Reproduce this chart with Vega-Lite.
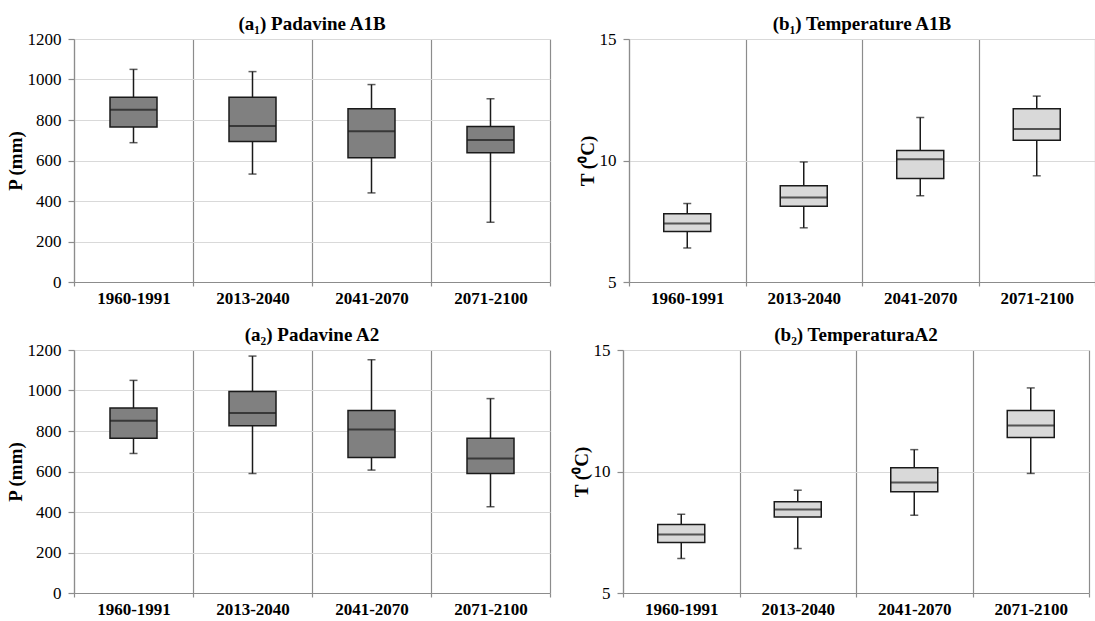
{
  "$schema": "https://vega.github.io/schema/vega-lite/v6.json",
  "padding": {"left": 6, "top": 15, "right": 0, "bottom": 0},
  "background": "white",
  "config": {
    "view": {"stroke": null},
    "font": "Liberation Serif",
    "axis": {"labelFont": "Liberation Serif", "titleFont": "Liberation Serif", "labelColor": "#000", "titleColor": "#000", "domainColor": "#8c8c8c", "tickColor": "#8c8c8c", "domainWidth": 1.2, "tickWidth": 1.2},
    "axisX": {"labelFontSize": 17, "labelFontWeight": "bold", "labelAngle": 0, "tickBand": "extent", "grid": true, "gridColor": "#8c8c8c", "gridWidth": 1.2, "tickSize": 4, "labelPadding": 4},
    "axisY": {"labelFontSize": 17, "titleFontSize": 19, "titleFontWeight": "bold", "grid": true, "gridColor": "#d9d9d9", "gridWidth": 1.2, "tickSize": 6, "labelPadding": 7, "titlePadding": 2, "format": "d"},
    "title": {"font": "Liberation Serif", "fontSize": 19, "fontWeight": "bold", "color": "#000", "offset": -4}
  },
  "datasets": {
    "a1": [
      {"period": "1960-1991", "lo": 688, "q1": 765, "med": 851, "q3": 912, "hi": 1050},
      {"period": "2013-2040", "lo": 533, "q1": 694, "med": 770, "q3": 912, "hi": 1039},
      {"period": "2041-2070", "lo": 440, "q1": 613, "med": 744, "q3": 856, "hi": 975},
      {"period": "2071-2100", "lo": 295, "q1": 638, "med": 701, "q3": 768, "hi": 905}
    ],
    "b1": [
      {"period": "1960-1991", "lo": 6.40, "q1": 7.08, "med": 7.41, "q3": 7.81, "hi": 8.23},
      {"period": "2013-2040", "lo": 7.23, "q1": 8.12, "med": 8.48, "q3": 8.96, "hi": 9.94},
      {"period": "2041-2070", "lo": 8.55, "q1": 9.26, "med": 10.05, "q3": 10.41, "hi": 11.77},
      {"period": "2071-2100", "lo": 9.37, "q1": 10.83, "med": 11.30, "q3": 12.13, "hi": 12.65}
    ],
    "a2": [
      {"period": "1960-1991", "lo": 689, "q1": 764, "med": 851, "q3": 914, "hi": 1050},
      {"period": "2013-2040", "lo": 590, "q1": 826, "med": 889, "q3": 995, "hi": 1170},
      {"period": "2041-2070", "lo": 607, "q1": 669, "med": 807, "q3": 901, "hi": 1152},
      {"period": "2071-2100", "lo": 426, "q1": 590, "med": 664, "q3": 764, "hi": 960}
    ],
    "b2": [
      {"period": "1960-1991", "lo": 6.42, "q1": 7.08, "med": 7.41, "q3": 7.82, "hi": 8.24},
      {"period": "2013-2040", "lo": 6.83, "q1": 8.13, "med": 8.44, "q3": 8.76, "hi": 9.23},
      {"period": "2041-2070", "lo": 8.20, "q1": 9.17, "med": 9.55, "q3": 10.15, "hi": 10.90},
      {"period": "2071-2100", "lo": 9.92, "q1": 11.40, "med": 11.89, "q3": 12.51, "hi": 13.44}
    ]
  },
  "spacing": 20,
  "vconcat": [
    {
      "spacing": 27,
      "hconcat": [
        {
          "title": "(a₁) Padavine A1B",
          "width": 476, "height": 243,
          "data": {"name": "a1"},
          "encoding": {"x": {"field": "period", "type": "nominal", "sort": null, "title": null, "scale": {"paddingInner": 0, "paddingOuter": 0}}},
          "layer": [
            {"mark": {"type": "rule", "color": "#1a1a1a", "strokeWidth": 1.5}, "encoding": {"y": {"field": "lo", "type": "quantitative", "title": "P (mm)", "scale": {"domain": [0, 1200]}, "axis": {"values": [0, 200, 400, 600, 800, 1000, 1200]}}, "y2": {"field": "hi"}}},
            {"mark": {"type": "tick", "orient": "horizontal", "color": "#1a1a1a", "size": 8, "thickness": 1.5}, "encoding": {"y": {"field": "lo", "type": "quantitative", "title": "P (mm)"}}},
            {"mark": {"type": "tick", "orient": "horizontal", "color": "#1a1a1a", "size": 8, "thickness": 1.5}, "encoding": {"y": {"field": "hi", "type": "quantitative", "title": "P (mm)"}}},
            {"mark": {"type": "bar", "fill": "#808080", "stroke": "#1a1a1a", "strokeWidth": 1.5, "size": 47}, "encoding": {"y": {"field": "q1", "type": "quantitative", "title": "P (mm)"}, "y2": {"field": "q3"}}},
            {"mark": {"type": "tick", "orient": "horizontal", "color": "#1a1a1a", "size": 47, "thickness": 2}, "encoding": {"y": {"field": "med", "type": "quantitative", "title": "P (mm)"}}}
          ]
        },
        {
          "title": "(b₁) Temperature A1B",
          "width": 466, "height": 243,
          "data": {"name": "b1"},
          "encoding": {"x": {"field": "period", "type": "nominal", "sort": null, "title": null, "scale": {"paddingInner": 0, "paddingOuter": 0}}},
          "layer": [
            {"mark": {"type": "rule", "color": "#1a1a1a", "strokeWidth": 1.5}, "encoding": {"y": {"field": "lo", "type": "quantitative", "title": "T (⁰C)", "scale": {"domain": [5, 15]}, "axis": {"values": [5, 10, 15]}}, "y2": {"field": "hi"}}},
            {"mark": {"type": "tick", "orient": "horizontal", "color": "#1a1a1a", "size": 8, "thickness": 1.5}, "encoding": {"y": {"field": "lo", "type": "quantitative", "title": "T (⁰C)"}}},
            {"mark": {"type": "tick", "orient": "horizontal", "color": "#1a1a1a", "size": 8, "thickness": 1.5}, "encoding": {"y": {"field": "hi", "type": "quantitative", "title": "T (⁰C)"}}},
            {"mark": {"type": "bar", "fill": "#d9d9d9", "stroke": "#1a1a1a", "strokeWidth": 1.5, "size": 47}, "encoding": {"y": {"field": "q1", "type": "quantitative", "title": "T (⁰C)"}, "y2": {"field": "q3"}}},
            {"mark": {"type": "tick", "orient": "horizontal", "color": "#1a1a1a", "size": 47, "thickness": 2}, "encoding": {"y": {"field": "med", "type": "quantitative", "title": "T (⁰C)"}}}
          ]
        }
      ]
    },
    {
      "spacing": 21,
      "hconcat": [
        {
          "title": "(a₂) Padavine A2",
          "width": 476, "height": 243,
          "data": {"name": "a2"},
          "encoding": {"x": {"field": "period", "type": "nominal", "sort": null, "title": null, "scale": {"paddingInner": 0, "paddingOuter": 0}}},
          "layer": [
            {"mark": {"type": "rule", "color": "#1a1a1a", "strokeWidth": 1.5}, "encoding": {"y": {"field": "lo", "type": "quantitative", "title": "P (mm)", "scale": {"domain": [0, 1200]}, "axis": {"values": [0, 200, 400, 600, 800, 1000, 1200]}}, "y2": {"field": "hi"}}},
            {"mark": {"type": "tick", "orient": "horizontal", "color": "#1a1a1a", "size": 8, "thickness": 1.5}, "encoding": {"y": {"field": "lo", "type": "quantitative", "title": "P (mm)"}}},
            {"mark": {"type": "tick", "orient": "horizontal", "color": "#1a1a1a", "size": 8, "thickness": 1.5}, "encoding": {"y": {"field": "hi", "type": "quantitative", "title": "P (mm)"}}},
            {"mark": {"type": "bar", "fill": "#808080", "stroke": "#1a1a1a", "strokeWidth": 1.5, "size": 47}, "encoding": {"y": {"field": "q1", "type": "quantitative", "title": "P (mm)"}, "y2": {"field": "q3"}}},
            {"mark": {"type": "tick", "orient": "horizontal", "color": "#1a1a1a", "size": 47, "thickness": 2}, "encoding": {"y": {"field": "med", "type": "quantitative", "title": "P (mm)"}}}
          ]
        },
        {
          "title": "(b₂) TemperaturaA2",
          "width": 466, "height": 243,
          "data": {"name": "b2"},
          "encoding": {"x": {"field": "period", "type": "nominal", "sort": null, "title": null, "scale": {"paddingInner": 0, "paddingOuter": 0}}},
          "layer": [
            {"mark": {"type": "rule", "color": "#1a1a1a", "strokeWidth": 1.5}, "encoding": {"y": {"field": "lo", "type": "quantitative", "title": "T (⁰C)", "scale": {"domain": [5, 15]}, "axis": {"values": [5, 10, 15]}}, "y2": {"field": "hi"}}},
            {"mark": {"type": "tick", "orient": "horizontal", "color": "#1a1a1a", "size": 8, "thickness": 1.5}, "encoding": {"y": {"field": "lo", "type": "quantitative", "title": "T (⁰C)"}}},
            {"mark": {"type": "tick", "orient": "horizontal", "color": "#1a1a1a", "size": 8, "thickness": 1.5}, "encoding": {"y": {"field": "hi", "type": "quantitative", "title": "T (⁰C)"}}},
            {"mark": {"type": "bar", "fill": "#d9d9d9", "stroke": "#1a1a1a", "strokeWidth": 1.5, "size": 47}, "encoding": {"y": {"field": "q1", "type": "quantitative", "title": "T (⁰C)"}, "y2": {"field": "q3"}}},
            {"mark": {"type": "tick", "orient": "horizontal", "color": "#1a1a1a", "size": 47, "thickness": 2}, "encoding": {"y": {"field": "med", "type": "quantitative", "title": "T (⁰C)"}}}
          ]
        }
      ]
    }
  ]
}
